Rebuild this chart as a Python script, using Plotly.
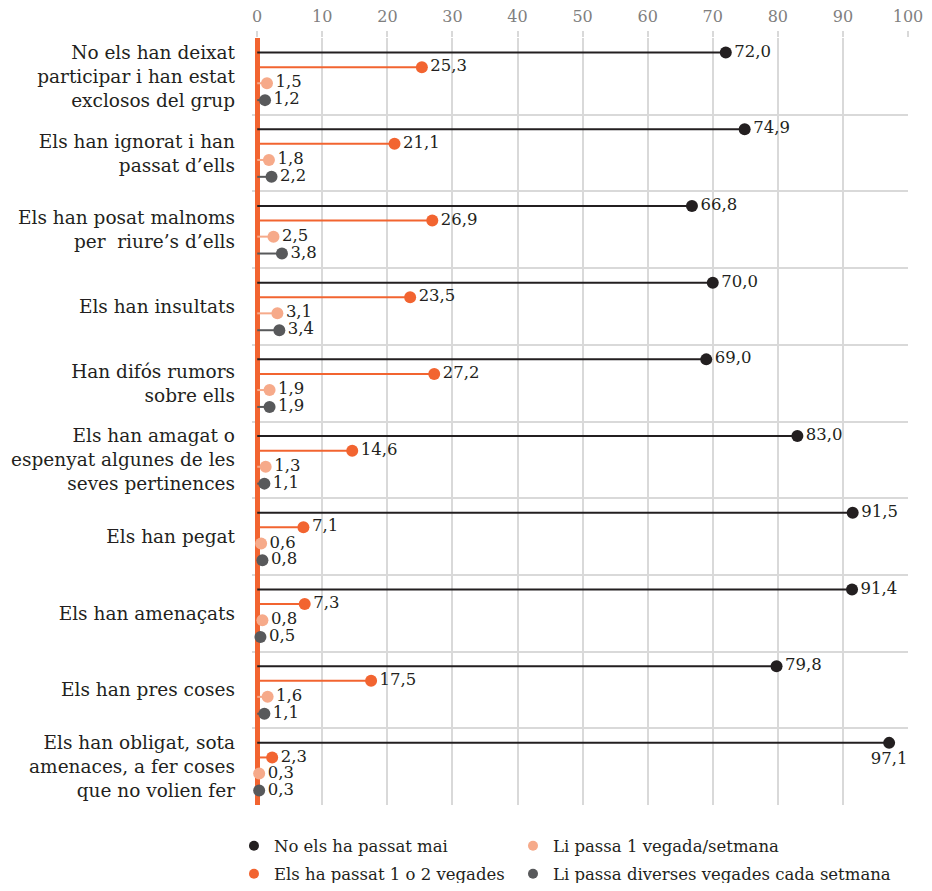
import plotly.graph_objects as go

categories = [
    "No els han deixat<br>participar i han estat<br>exclosos del grup",
    "Els han ignorat i han<br>passat d’ells",
    "Els han posat malnoms<br>per  riure’s d’ells",
    "Els han insultats",
    "Han difós rumors<br>sobre ells",
    "Els han amagat o<br>espenyat algunes de les<br>seves pertinences",
    "Els han pegat",
    "Els han amenaçats",
    "Els han pres coses",
    "Els han obligat, sota<br>amenaces, a fer coses<br>que no volien fer",
]

series_names = [
    "No els ha passat mai",
    "Els ha passat 1 o 2 vegades",
    "Li passa 1 vegada/setmana",
    "Li passa diverses vegades cada setmana",
]

mai = [72.0, 74.9, 66.8, 70.0, 69.0, 83.0, 91.5, 91.4, 79.8, 97.1]
un_dos = [25.3, 21.1, 26.9, 23.5, 27.2, 14.6, 7.1, 7.3, 17.5, 2.3]
setmana = [1.5, 1.8, 2.5, 3.1, 1.9, 1.3, 0.6, 0.8, 1.6, 0.3]
diverses = [1.2, 2.2, 3.8, 3.4, 1.9, 1.1, 0.8, 0.5, 1.1, 0.3]

values = [mai, un_dos, setmana, diverses]
colors = ["#231F20", "#F26430", "#F6AA8A", "#58595B"]
offsets = [0.19, 0.38, 0.59, 0.81]
legend_ids = ["legend", "legend2", "legend3", "legend4"]

FONT = "DejaVu Serif"

fig = go.Figure()

for s, (name, vals, col, off) in enumerate(zip(series_names, values, colors, offsets)):
    xs, ys = [], []
    for i, v in enumerate(vals):
        xs += [0, v, None]
        ys += [i + off, i + off, None]
    fig.add_trace(go.Scatter(x=xs, y=ys, mode="lines",
                             line=dict(color=col, width=2),
                             showlegend=False, hoverinfo="skip"))
    texts = [f"{v:.1f}".replace(".", ",") for v in vals]
    positions = ["bottom center" if v > 95 else "middle right" for v in vals]
    fig.add_trace(go.Scatter(
        x=vals, y=[i + off for i in range(len(vals))],
        mode="markers+text",
        marker=dict(color=col, size=12),
        text=texts, textposition=positions,
        textfont=dict(family=FONT, size=16.5, color="#231F20"),
        showlegend=False, cliponaxis=False,
    ))
    fig.add_trace(go.Scatter(
        x=[None], y=[None], mode="markers", name=name,
        marker=dict(color=col, size=10),
        legend=legend_ids[s],
    ))

def legend_at(x, y):
    return dict(
        orientation="h", xref="container", yref="container",
        x=x, y=y, xanchor="left", yanchor="middle",
        font=dict(family=FONT, size=16.5, color="#231F20"),
        itemwidth=30, bgcolor="rgba(0,0,0,0)",
    )

fig.update_layout(
    width=916, height=875,
    margin=dict(l=244, r=16, t=30, b=78),
    plot_bgcolor="white", paper_bgcolor="white",
    font=dict(family=FONT, size=16, color="#231F20"),
    legend=legend_at(0.2467, 0.0423),
    legend3=legend_at(0.5513, 0.0423),
    legend2=legend_at(0.2467, 0.0103),
    legend4=legend_at(0.5513, 0.0103),
    xaxis=dict(
        side="top", range=[-0.8, 100], tickmode="linear", tick0=0, dtick=10,
        showgrid=True, gridcolor="#D9D9D9", gridwidth=2,
        zeroline=True, zerolinecolor="#F26430", zerolinewidth=5,
        ticks="outside", ticklen=6, tickcolor="#D9D9D9", tickwidth=2,
        tickfont=dict(family=FONT, size=16, color="#7F7F7F"),
        ticklabelstandoff=3, ticklabeloverflow="allow",
        showline=False, automargin=False,
    ),
    yaxis=dict(
        range=[10, 0], tickmode="array",
        tickvals=[i + 0.5 for i in range(len(categories))],
        ticktext=categories, showgrid=False, zeroline=False,
        ticks="", ticklabelstandoff=16, automargin=False,
        tickfont=dict(family=FONT, size=18.5, color="#231F20"),
        minor=dict(tickmode="array", tickvals=list(range(len(categories) + 1)),
                   showgrid=True, gridcolor="#D9D9D9", gridwidth=2, ticks=""),
    ),
)

fig.write_html("out.html")
